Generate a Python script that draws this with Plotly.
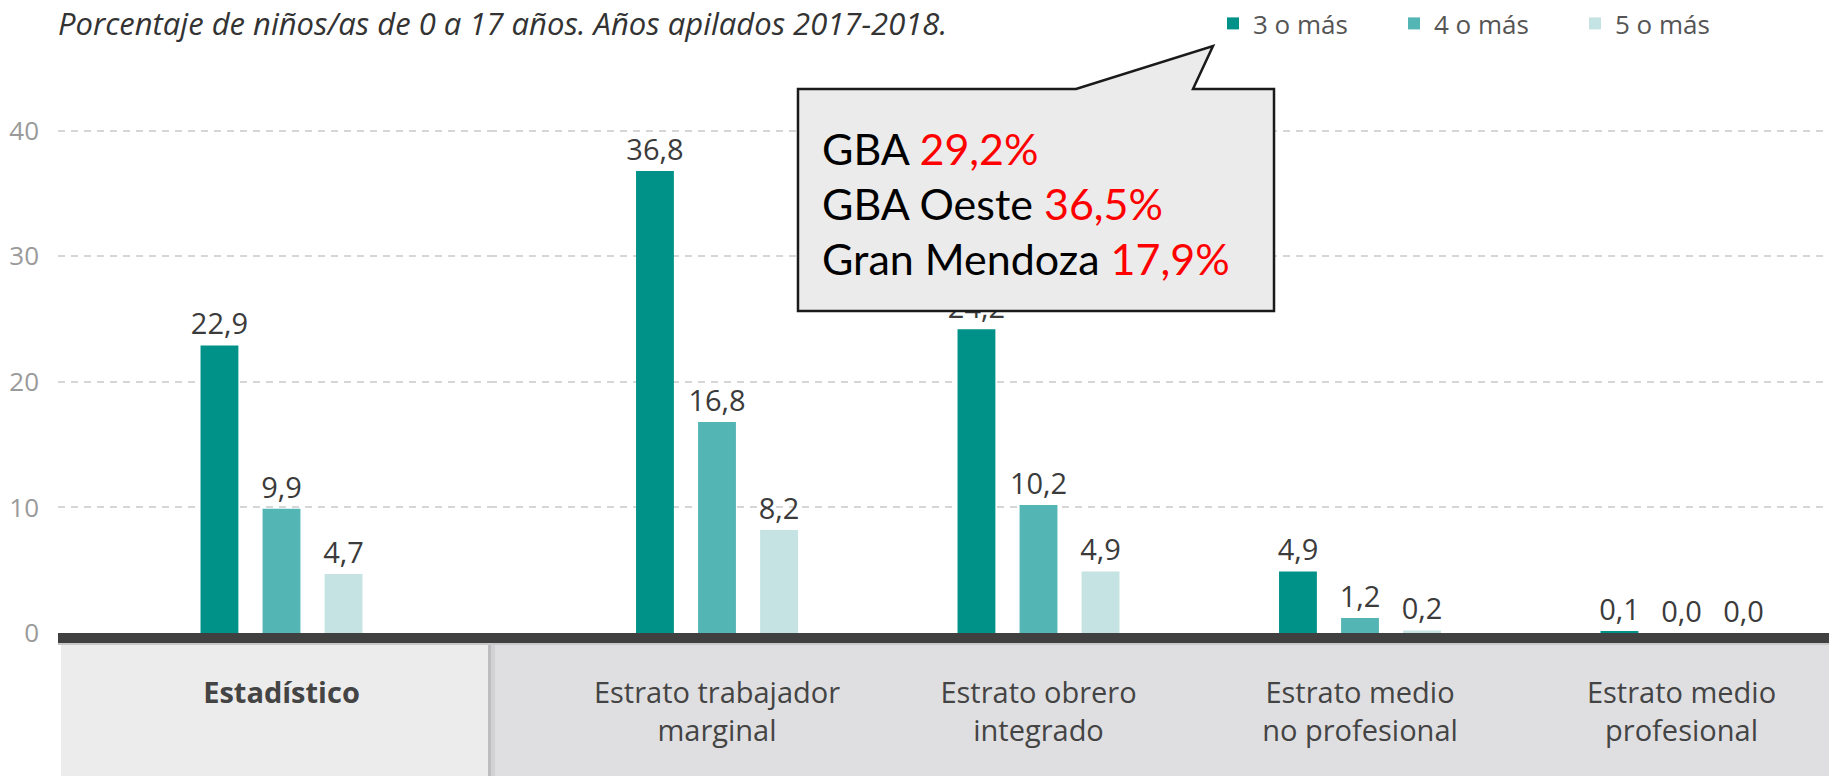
import plotly.graph_objects as go

# ---------------- data ----------------
categories_left = ["Estadístico"]
categories_right = ["Estrato trabajador<br>marginal", "Estrato obrero<br>integrado",
                    "Estrato medio<br>no profesional", "Estrato medio<br>profesional"]
series_names = ["3 o más", "4 o más", "5 o más"]
values_3 = [22.9, 36.8, 24.2, 4.9, 0.1]
values_4 = [9.9, 16.8, 10.2, 1.2, 0.0]
values_5 = [4.7, 8.2, 4.9, 0.2, 0.0]
series_values = [values_3, values_4, values_5]
series_colors = ["#009189", "#53b5b4", "#c4e3e2"]
y_ticks = [0, 10, 20, 30, 40]
title_text = "Porcentaje de niños/as de 0 a 17 años. Años apilados 2017-2018."
callout_lines = [("GBA", "29,2%"), ("GBA Oeste", "36,5%"), ("Gran Mendoza", "17,9%")]

# ---------------- layout geometry ----------------
W, H = 1829, 776
L, R, T, B = 58, 0, 68, 143
PW, PH = W - L - R, H - T - B
FONT = "Open Sans"


def xp(px):
    return (px - L) / PW


def yp(py):
    return (H - B - py) / PH


def fmt(v):
    return f"{v:.1f}".replace(".", ",")


label_font = dict(family=FONT, size=29, color="#3b3b3b")

fig = go.Figure()
for name, vals, col in zip(series_names, series_values, series_colors):
    fig.add_trace(go.Bar(
        x=categories_left, y=vals[:1], name=name, marker=dict(color=col, line=dict(width=0)),
        text=[fmt(v) for v in vals[:1]], textposition="outside", cliponaxis=False,
        constraintext="none", textfont=label_font,
        xaxis="x", yaxis="y", legendgroup=name, showlegend=True, hoverinfo="skip"))
for name, vals, col in zip(series_names, series_values, series_colors):
    fig.add_trace(go.Bar(
        x=categories_right, y=vals[1:], name=name, marker=dict(color=col, line=dict(width=0)),
        text=[fmt(v) for v in vals[1:]], textposition="outside", cliponaxis=False,
        constraintext="none", textfont=label_font,
        xaxis="x2", yaxis="y", legendgroup=name, showlegend=False, hoverinfo="skip"))

# axis domains / ranges (pixel per category unit identical on both axes)
UNIT = 321.5
split_px = 490
c_left = 281.5
first_right = 717
d1 = xp(split_px)
x1_range = [-(c_left - L) / UNIT, (split_px - c_left) / UNIT]
x2_start = -0.5 - (first_right - UNIT / 2 - split_px) / UNIT
x2_range = [x2_start, x2_start + (W - R - split_px) / UNIT]

tickfont = dict(family=FONT, size=29, color="#444444")
common_x = dict(type="category", showgrid=False, zeroline=False, showline=False,
                ticks="", tickfont=tickfont, ticklabelstandoff=40, anchor="y", fixedrange=True)

shapes = []
# gray bands under the axis
shapes.append(dict(type="rect", xref="paper", yref="paper", x0=xp(61), x1=xp(488),
                   y0=yp(H), y1=yp(643), fillcolor="#ececec", line=dict(width=0), layer="below"))
shapes.append(dict(type="rect", xref="paper", yref="paper", x0=xp(488), x1=1,
                   y0=yp(H), y1=yp(643), fillcolor="#dfdfe1", line=dict(width=0), layer="below"))
shapes.append(dict(type="rect", xref="paper", yref="paper", x0=xp(488), x1=xp(491),
                   y0=yp(H), y1=yp(643), fillcolor="#bdbdc0", line=dict(width=0), layer="below"))
shapes.append(dict(type="rect", xref="paper", yref="paper", x0=xp(491), x1=xp(495),
                   y0=yp(H), y1=yp(643), fillcolor="#d2d2d4", line=dict(width=0), layer="below"))
shapes.append(dict(type="rect", xref="paper", yref="paper", x0=0, x1=1,
                   y0=yp(645), y1=yp(643), fillcolor="#c8c8c8", line=dict(width=0), layer="above"))
# thick dark baseline
shapes.append(dict(type="rect", xref="paper", yref="paper", x0=0, x1=1,
                   y0=yp(643), y1=yp(633), fillcolor="#404040", line=dict(width=0), layer="above"))
# callout bubble
pts = [(798, 89), (1076, 89), (1213, 46), (1193, 89), (1274, 89), (1274, 311), (798, 311)]
path = "M " + " L ".join(f"{xp(a):.5f},{yp(b):.5f}" for a, b in pts) + " Z"
shapes.append(dict(type="path", xref="paper", yref="paper", path=path,
                   fillcolor="#ebebeb", line=dict(color="#1a1a1a", width=2.5), layer="above"))

annotations = [dict(text=f"<i>{title_text}</i>", xref="paper", yref="paper", x=xp(56), y=yp(23),
                    xanchor="left", yanchor="middle", showarrow=False,
                    font=dict(family=FONT, size=31, color="#333333"))]
for (lbl, val), cy in zip(callout_lines, [148, 203, 258]):
    annotations.append(dict(text=f"{lbl} <span style='color:#ff0000'>{val}</span>",
                            xref="paper", yref="paper", x=xp(820), y=yp(cy),
                            xanchor="left", yanchor="middle", showarrow=False,
                            font=dict(family="Lato", size=43, color="#000000")))

fig.update_layout(
    width=W, height=H, margin=dict(l=L, r=R, t=T, b=B),
    paper_bgcolor="white", plot_bgcolor="white",
    barmode="group", bargap=0.421, bargroupgap=0.39,
    xaxis=dict(domain=[0, d1], range=x1_range,
               tickvals=categories_left, ticktext=["<b>Estadístico</b>"], **common_x),
    xaxis2=dict(domain=[d1, 1], range=x2_range, **common_x),
    yaxis=dict(range=[0, 45], tickvals=y_ticks, showgrid=True, gridcolor="#d6d6d6",
               griddash="7px,6px", gridwidth=2, zeroline=False, showline=False,
               tickfont=dict(family=FONT, size=26, color="#9a9a9a"), ticks="",
               ticklabelstandoff=18, fixedrange=True),
    legend=dict(orientation="h", x=xp(1213), y=yp(23), xanchor="left", yanchor="middle",
                font=dict(family=FONT, size=26, color="#555555"), entrywidth=136,
                bgcolor="rgba(0,0,0,0)", traceorder="normal"),
    shapes=shapes, annotations=annotations, showlegend=True,
)

fig.write_html("out.html", config={"displayModeBar": False},
               post_script="document.body.style.margin='0';")
